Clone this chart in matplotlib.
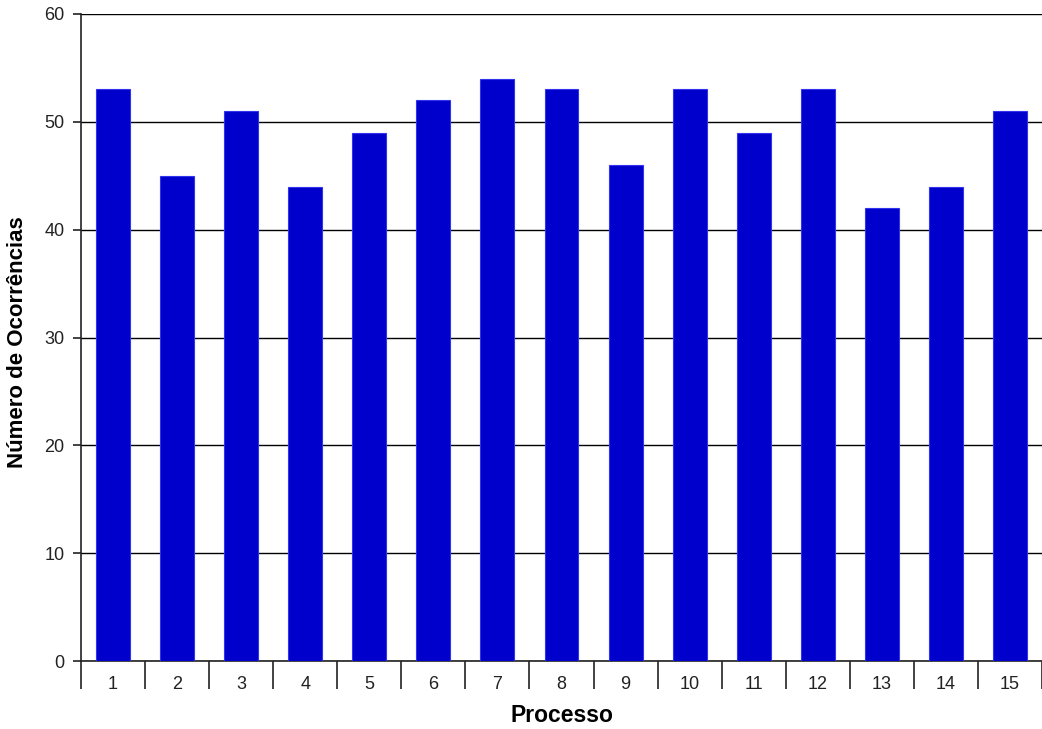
import matplotlib
matplotlib.use("Agg")
import matplotlib.pyplot as plt

categories = [str(i) for i in range(1, 16)]
values = [53, 45, 51, 44, 49, 52, 54, 53, 46, 53, 49, 53, 42, 44, 51]
yticks = [0, 10, 20, 30, 40, 50, 60]

plt.rcParams['font.family'] = ['Liberation Sans', 'DejaVu Sans']

fig = plt.figure(figsize=(10.42, 7.29), dpi=100)
ax = fig.add_axes([81/1042, 1 - 661/729, 1 - 81/1042, (661 - 14)/729])

x = list(range(len(categories)))
ax.bar(x, values, width=0.53, color='#0000CC', edgecolor='#3333EE', linewidth=0.8, zorder=3)

ax.set_xlim(-0.5, len(categories) - 0.5)
ax.set_ylim(0, 60)
ax.set_yticks(yticks)
ax.set_yticklabels([str(v) for v in yticks], fontsize=13, color='#222222')
ax.yaxis.grid(True, color='black', linewidth=1.0, zorder=1)
ax.set_axisbelow(True)

# category ticks at boundaries, labels centered
ax.set_xticks([i - 0.5 for i in range(len(categories) + 1)])
ax.set_xticklabels([])
ax.set_xticks(x, minor=True)
ax.set_xticklabels(categories, minor=True, fontsize=13, color='#222222')
ax.tick_params(axis='x', which='major', length=20, width=1.2, color='#222222', direction='out')
ax.tick_params(axis='x', which='minor', length=0, pad=11)
ax.tick_params(axis='y', length=6, width=1.2, color='#222222', pad=6)

ax.spines['right'].set_visible(False)
ax.spines['top'].set_visible(False)
ax.spines['left'].set_color('#222222')
ax.spines['bottom'].set_color('#222222')
ax.spines['left'].set_linewidth(1.2)
ax.spines['bottom'].set_linewidth(1.2)

ax.set_xlabel('Processo', fontsize=16.5, fontweight='bold')
ax.set_ylabel('Número de Ocorrências', fontsize=16, fontweight='bold')
ax.xaxis.label.set_verticalalignment('center')
ax.yaxis.label.set_verticalalignment('center')
ax.xaxis.set_label_coords(0.5, (661 - 716) / 647)
ax.yaxis.set_label_coords((18 - 81) / 961, (661 - 342) / 647)

fig.savefig('out.png', dpi=100, facecolor='white')
